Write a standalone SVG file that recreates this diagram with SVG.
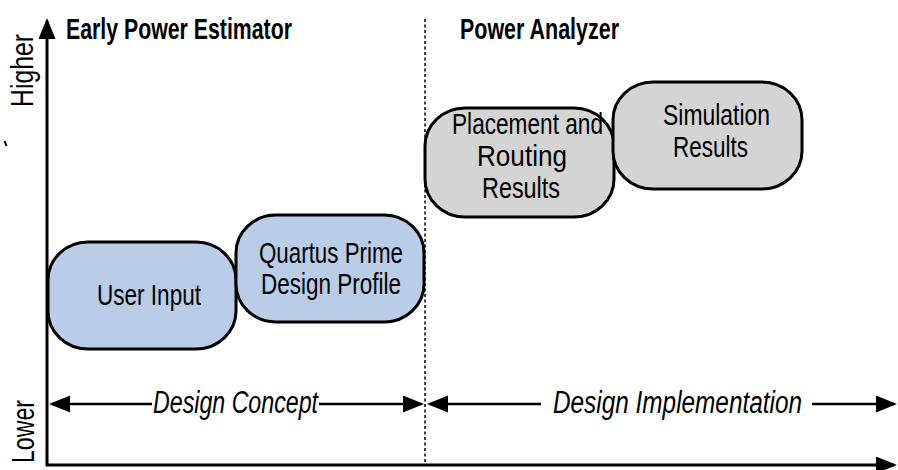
<svg xmlns="http://www.w3.org/2000/svg" width="898" height="470" viewBox="0 0 898 470">
  <style>
    .box { stroke: #000; stroke-width: 3; }
    .blue { fill: #b9cde9; }
    .gray { fill: #d4d4d4; }
    .lbl { font-family: "Liberation Sans", Arial, sans-serif; font-size: 29px; fill: #000; text-anchor: middle; }
    .ttl { font-family: "Liberation Sans", Arial, sans-serif; font-size: 29px; font-weight: bold; fill: #000; }
    .ax { font-family: "Liberation Sans", Arial, sans-serif; font-size: 31px; fill: #000; }
    .it { font-family: "Liberation Sans", Arial, sans-serif; font-size: 31px; font-style: italic; fill: #000; }
    .line { stroke: #000; stroke-width: 3; fill: none; }
    .dim { stroke: #000; stroke-width: 2.5; fill: none; }
  </style>
  <defs>
    <marker id="ah" markerUnits="userSpaceOnUse" markerWidth="22" markerHeight="18" refX="18" refY="8.5" orient="auto-start-reverse">
      <path d="M0,0 L21,8.5 L0,17 z" fill="#000"/>
    </marker>
  </defs>
  <rect width="898" height="470" fill="#fff"/>

  <g id="titles">
    <text class="ttl" x="66" y="39" textLength="226" lengthAdjust="spacingAndGlyphs">Early Power Estimator</text>
    <text class="ttl" x="460" y="39" textLength="159" lengthAdjust="spacingAndGlyphs">Power Analyzer</text>
  </g>

  <g id="axis-labels">
    <text class="ax" transform="translate(33,107) rotate(-90)" x="0" y="0" textLength="73" lengthAdjust="spacingAndGlyphs">Higher</text>
    <text class="ax" transform="translate(34,463) rotate(-90)" x="0" y="0" textLength="63" lengthAdjust="spacingAndGlyphs">Lower</text>
    <line x1="4.5" y1="141" x2="6.5" y2="146" stroke="#000" stroke-width="2"/>
  </g>

  <g id="connectors">
    <line class="line" x1="47" y1="466" x2="47" y2="21" marker-end="url(#ah)"/>
    <line class="line" x1="46" y1="465" x2="894" y2="465" marker-end="url(#ah)"/>
    <line x1="425" y1="19" x2="425" y2="465" stroke="#000" stroke-width="1.5" stroke-dasharray="3 2.5"/>
    <line class="dim" x1="52" y1="404" x2="152" y2="404" marker-start="url(#ah)"/>
    <line class="dim" x1="319" y1="404" x2="421" y2="404" marker-end="url(#ah)"/>
    <line class="dim" x1="430" y1="404" x2="541" y2="404" marker-start="url(#ah)"/>
    <line class="dim" x1="812" y1="404" x2="894" y2="404" marker-end="url(#ah)"/>
    <text class="it" x="153" y="413" textLength="165" lengthAdjust="spacingAndGlyphs">Design Concept</text>
    <text class="it" x="553" y="413" textLength="249" lengthAdjust="spacingAndGlyphs">Design Implementation</text>
  </g>

  <g id="user-input">
    <rect class="box blue" x="48" y="242" width="188" height="107" rx="40" ry="38"/>
    <text class="lbl" x="149" y="305" textLength="104" lengthAdjust="spacingAndGlyphs">User Input</text>
  </g>

  <g id="quartus-prime">
    <rect class="box blue" x="236" y="215" width="188" height="107" rx="40" ry="38"/>
    <text class="lbl" x="331" y="263" textLength="144" lengthAdjust="spacingAndGlyphs">Quartus Prime</text>
    <text class="lbl" x="331" y="294" textLength="140" lengthAdjust="spacingAndGlyphs">Design Profile</text>
  </g>

  <g id="placement-routing">
    <rect class="box gray" x="425" y="108" width="189" height="109" rx="40" ry="38"/>
    <text class="lbl" x="527.5" y="134" textLength="151" lengthAdjust="spacingAndGlyphs">Placement and</text>
    <text class="lbl" x="522" y="166" textLength="90" lengthAdjust="spacingAndGlyphs">Routing</text>
    <text class="lbl" x="521" y="198" textLength="78" lengthAdjust="spacingAndGlyphs">Results</text>
  </g>

  <g id="simulation">
    <rect class="box gray" x="613" y="82" width="189" height="107" rx="40" ry="38"/>
    <text class="lbl" x="716.5" y="125" textLength="107" lengthAdjust="spacingAndGlyphs">Simulation</text>
    <text class="lbl" x="710.5" y="157" textLength="75" lengthAdjust="spacingAndGlyphs">Results</text>
  </g>
</svg>
